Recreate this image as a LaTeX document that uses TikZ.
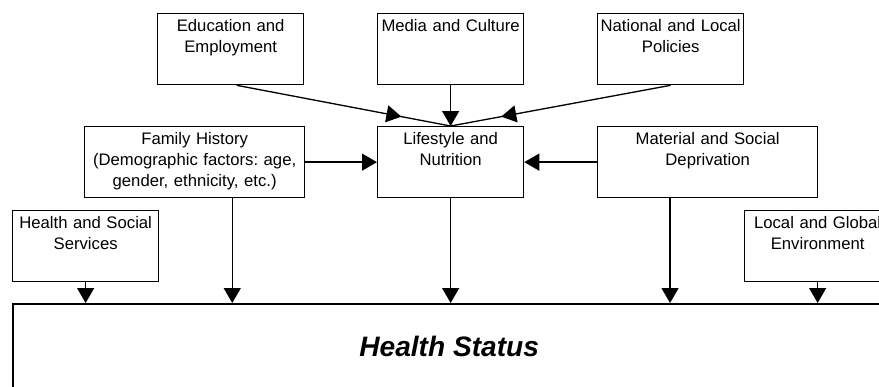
\documentclass[tikz,border=0pt]{standalone}
\usepackage{fontspec}
\setmainfont{Liberation Sans}
\usetikzlibrary{arrows.meta,calc,decorations.markings}
\frenchspacing

\begin{document}
\begin{tikzpicture}[
  x=0.02cm, y=-0.02cm, line width=0.75pt,
  every node/.style={draw, line width=0.75pt, anchor=north west, align=center, inner xsep=0pt, inner ysep=0pt, font=\fontsize{9.5}{12}\selectfont},
  factor/.style={text width=2.92cm, text height=0.35cm, text depth=1.07cm},
  wide/.style={factor, text width=4.4cm},
  status/.style={minimum width=17.44cm, text height=1.04cm, text depth=0.96cm, line width=1.4pt, font=\fontsize{16}{19}\selectfont\bfseries\itshape},
  midarrow/.style={postaction={decorate}, decoration={markings, mark=at position #1 with {\arrow{>}}}},
  >={Triangle[width=0.34cm, length=0.3cm]}
]
\useasboundingbox (0,0) rectangle (879,386);
\clip (0,0) rectangle (879,386);

\node[factor] (edu)      at (157,13)  {Education and\\Employment};
\node[factor] (media)    at (377,13)  {Media and Culture};
\node[factor] (policy)   at (597,13)  {National and Local\\Policies};
\node[wide]   (family)   at (84,126)  {Family History\\(Demographic factors: age,\\gender, ethnicity, etc.)};
\node[factor] (life)     at (377,126) {Lifestyle and\\Nutrition};
\node[wide]   (depriv)   at (597,126) {Material and Social\\Deprivation};
\node[factor] (services) at (12,210)  {Health and Social\\Services};
\node[factor] (environ)  at (744,210) {Local and Global\\Environment};
\node[status] (health)   at (12,303)  {Health Status};

\coordinate (famout) at ($(family.south west)!.67!(family.south east)$);
\coordinate (depout) at ($(depriv.south west)!.33!(depriv.south east)$);

\draw[midarrow=.77] ([xshift=0.12cm]edu.south) -- (life.north);
\draw[->] (media.south) -- (life.north);
\draw[midarrow=.77] (policy.south) -- (life.north);
\draw[->] (family.east) -- (life.west);
\draw[->] (depriv.west) -- (life.east);

\draw[->] (services.south) -- (services.south |- health.north);
\draw[->] (famout) -- (famout |- health.north);
\draw[->] (life.south) -- (life.south |- health.north);
\draw[->] (depout) -- (depout |- health.north);
\draw[->] (environ.south) -- (environ.south |- health.north);
\end{tikzpicture}
\end{document}
